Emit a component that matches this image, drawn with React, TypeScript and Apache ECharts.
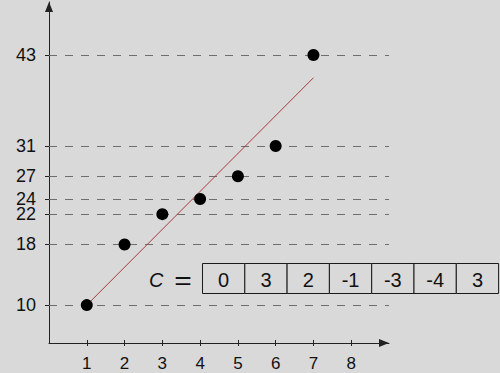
import React, { useEffect, useRef } from 'react';
import * as echarts from 'echarts';

const xValues = [1, 2, 3, 4, 5, 6, 7];
const yValues = [10, 18, 22, 24, 27, 31, 43];
const xTickValues = [1, 2, 3, 4, 5, 6, 7, 8];
const yTickValues = [10, 18, 22, 24, 27, 31, 43];
const fitX = [1, 7];
const fitY = [10, 40];
const cName = 'C';
const cValues = [0, 3, 2, -1, -3, -4, 3];

export default function App() {
  const ref = useRef<HTMLDivElement>(null);
  useEffect(() => {
    document.body.style.margin = '0';
    const chart = echarts.init(ref.current!, null, { renderer: 'svg' });
    const font = 'Liberation Sans';
    const boxX0 = 202.5, boxW = 42.3, boxY = 263.5, boxH = 30;
    const graphics: any[] = [];
    graphics.push({
      type: 'text', x: 149, y: 280,
      style: { text: cName, fontSize: 20, fontStyle: 'italic', fontFamily: font, fill: '#111', align: 'left', verticalAlign: 'middle' },
    });
    graphics.push({
      type: 'text', x: 183, y: 280, scaleX: 2.0, scaleY: 1.7,
      style: { text: '=', fontSize: 15, fontFamily: font, fill: '#111', align: 'center', verticalAlign: 'middle' },
    });
    cValues.forEach((v, i) => {
      graphics.push({
        type: 'rect',
        shape: { x: boxX0 + i * boxW, y: boxY, width: boxW, height: boxH },
        style: { fill: '#d9d9d9', stroke: '#1a1a1a', lineWidth: 1 },
      });
      graphics.push({
        type: 'text', x: boxX0 + i * boxW + boxW / 2, y: boxY + boxH / 2 + 1.5,
        style: { text: String(v), fontSize: 20, fontFamily: font, fill: '#111', align: 'center', verticalAlign: 'middle' },
      });
    });

    const axisLineStyle = { color: '#222', width: 1 };
    chart.setOption({
      animation: false,
      backgroundColor: '#d9d9d9',
      textStyle: { fontFamily: font },
      grid: { left: 49, right: 111, top: 2, bottom: 30, containLabel: false, outerBoundsMode: 'none' },
      xAxis: [
        {
          type: 'value', min: 0, max: 9, position: 'bottom',
          axisLine: { show: true, onZero: false, lineStyle: axisLineStyle, symbol: ['none', 'triangle'], symbolSize: [8, 10], symbolOffset: [0, -5] },
          axisTick: { show: true, length: 3, customValues: xTickValues, lineStyle: { color: '#222', width: 1 } },
          axisLabel: { show: true, customValues: xTickValues, fontSize: 17, color: '#111', margin: 12, fontFamily: font },
          splitLine: { show: false },
        },
        {
          type: 'value', min: 0, max: 9, position: 'bottom',
          axisLine: { show: false },
          axisTick: { show: true, inside: true, length: 3, customValues: xTickValues, lineStyle: { color: '#222', width: 1 } },
          axisLabel: { show: false },
          splitLine: { show: false },
        },
      ],
      yAxis: {
        type: 'value', min: 5, max: 50,
        axisLine: { show: true, onZero: false, lineStyle: axisLineStyle, symbol: ['none', 'triangle'], symbolSize: [8, 10], symbolOffset: [0, -5] },
        axisTick: { show: true, length: 4, customValues: yTickValues, lineStyle: { color: '#222', width: 1 } },
        axisLabel: { show: true, customValues: yTickValues, fontSize: 18, color: '#111', margin: 13, fontFamily: font },
        splitLine: { show: false },
      },
      series: [
        {
          type: 'line', xAxisIndex: 0, z: 2,
          data: fitX.map((x, i) => [x, fitY[i]]),
          symbol: 'none', showSymbol: false,
          lineStyle: { color: '#a83a3a', width: 1 },
          markLine: {
            z: 1,
            silent: true, symbol: 'none', label: { show: false },
            lineStyle: { color: '#6e6e6e', width: 1, type: [8, 8] },
            data: yTickValues.map((v) => ({ yAxis: v })),
          },
        },
        {
          type: 'scatter', xAxisIndex: 0, z: 10,
          data: xValues.map((x, i) => [x, yValues[i]]),
          symbolSize: 12,
          itemStyle: { color: '#000', opacity: 1 },
        },
      ],
      graphic: graphics,
    });
    return () => chart.dispose();
  }, []);
  return <div ref={ref} style={{ position: 'absolute', left: 0, top: 0, width: 500, height: 373 }} />;
}
